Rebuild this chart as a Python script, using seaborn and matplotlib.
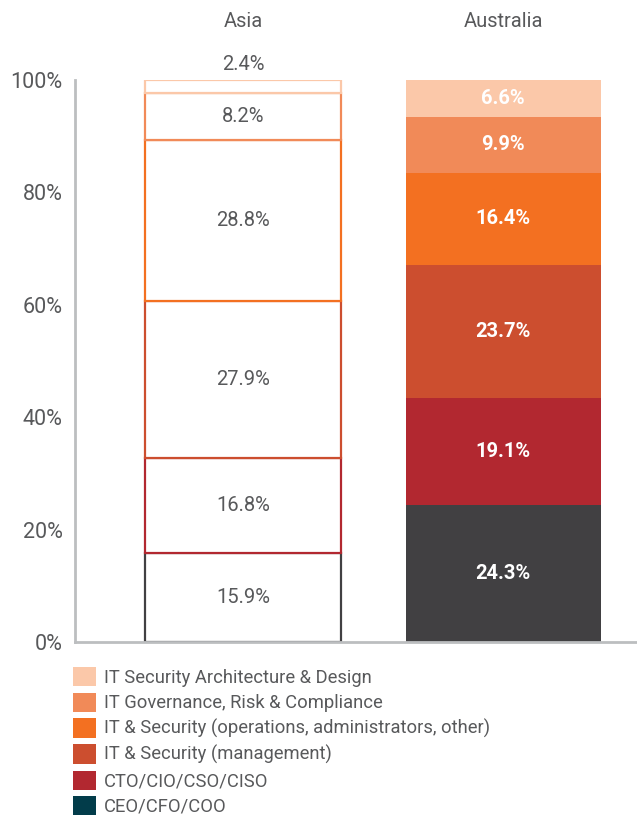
import matplotlib
matplotlib.use("Agg")
import numpy as np
import pandas as pd
import matplotlib.pyplot as plt
import seaborn as sns
from matplotlib.patches import Patch

# data, bottom segment first
regions = ["Asia", "Australia"]
roles = ["CEO/CFO/COO",
         "CTO/CIO/CSO/CISO",
         "IT & Security (management)",
         "IT & Security (operations, administrators, other)",
         "IT Governance, Risk & Compliance",
         "IT Security Architecture & Design"]
asia = [15.9, 16.8, 27.9, 28.8, 8.2, 2.4]
australia = [24.3, 19.1, 23.7, 16.4, 9.9, 6.6]
yticks = [0, 20, 40, 60, 80, 100]

bar_colors = ["#414042", "#B22830", "#CC4E2F", "#F37021", "#F18A58", "#FBC8A9"]
legend_colors = ["#023C4A", "#B22830", "#CC4E2F", "#F37021", "#F18A58", "#FBC8A9"]

sns.set_style("white")
plt.rcParams["font.family"] = ["Roboto", "DejaVu Sans"]
text_grey = "#58595B"
axis_grey = "#BCBEC0"

fig = plt.figure(figsize=(6.37, 8.24), dpi=100)
ax = fig.add_axes([75 / 637, 182 / 824, 1 - 75 / 637, 562 / 824])

# Asia: outlined segments, Australia: filled segments
bottom_asia = 0.0
bottom_aus = 0.0
for i, role in enumerate(roles):
    df_a = pd.DataFrame({"region": ["Asia"], "value": [asia[i]]})
    sns.barplot(data=df_a, x="region", y="value", order=regions, ax=ax,
                bottom=bottom_asia, color="white", edgecolor=bar_colors[i],
                linewidth=1.6, width=0.75, saturation=1, zorder=3 + i)
    df_b = pd.DataFrame({"region": ["Australia"], "value": [australia[i]]})
    sns.barplot(data=df_b, x="region", y="value", order=regions, ax=ax,
                bottom=bottom_aus, color=bar_colors[i], linewidth=0,
                width=0.75, saturation=1)

    # labels
    if i == len(roles) - 1:
        ax.text(0, bottom_asia + asia[i] + 1.0, f"{asia[i]:.1f}%", ha="center",
                va="bottom", fontsize=14.5, color=text_grey)
    else:
        ax.text(0, bottom_asia + asia[i] / 2, f"{asia[i]:.1f}%", ha="center",
                va="center", fontsize=14.5, color=text_grey, zorder=20)
    ax.text(1, bottom_aus + australia[i] / 2, f"{australia[i]:.1f}%", ha="center",
            va="center", fontsize=14.5, color="white", fontweight="bold", zorder=20)

    bottom_asia += asia[i]
    bottom_aus += australia[i]

ax.set_xlim(-0.646, 1.515)
ax.set_ylim(0, 100)
ax.set_yticks(yticks)
ax.set_yticklabels([f"{t}%" for t in yticks])
ax.tick_params(axis="y", length=0, pad=9, labelsize=15.5, labelcolor=text_grey)
ax.xaxis.tick_top()
ax.tick_params(axis="x", length=0, pad=35, labelsize=14.5, labelcolor=text_grey)
ax.set_xlabel("")
ax.set_ylabel("")

for side in ["top", "right"]:
    ax.spines[side].set_visible(False)
for side in ["left", "bottom"]:
    ax.spines[side].set_color(axis_grey)
    ax.spines[side].set_linewidth(2)
    ax.spines[side].set_zorder(10)

handles = [Patch(facecolor=c, edgecolor="none") for c in legend_colors[::-1]]
leg = fig.legend(handles, roles[::-1], loc="upper left",
                 bbox_to_anchor=(73 / 637, 1 - 667 / 824), frameon=False,
                 fontsize=13.2, handlelength=1.27, handleheight=1.22,
                 handletextpad=0.42, labelspacing=0.33, borderpad=0,
                 borderaxespad=0)
for t in leg.get_texts():
    t.set_color(text_grey)

fig.savefig("out.png", dpi=100)
